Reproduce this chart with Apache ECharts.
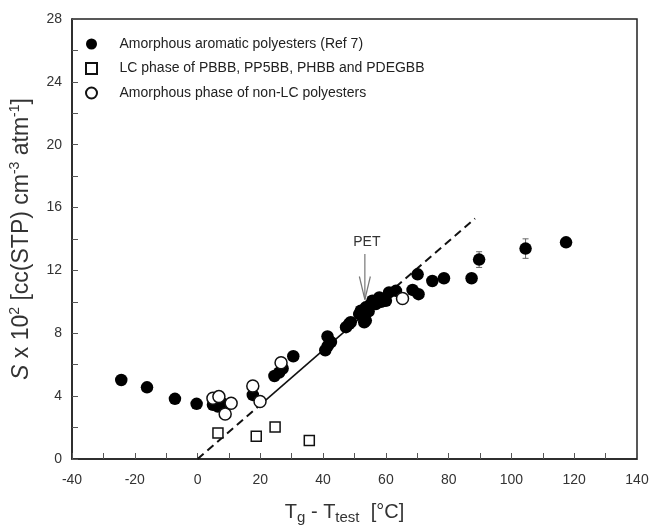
<!DOCTYPE html>
<html>
<head>
<meta charset="utf-8">
<script src="https://cdn.jsdelivr.net/npm/echarts@6/dist/echarts.min.js"></script>
<style>html,body{margin:0;padding:0;background:#fff;overflow:hidden}#c{width:652px;height:530px}</style>
</head>
<body>
<div id="c"></div>
<script>
// Amorphous aromatic polyesters (Ref 7) - filled circles
var aromaticX = [-24.3,-16.1,-7.2,-0.3,4.9,6.5,8.6,7.5,17.6,24.5,26.0,27.1,30.5,40.7,41.4,42.5,41.5,47.3,48.3,48.8,51.5,52.0,53.1,53.6,53.6,54.5,55.0,55.7,56.8,57.9,58.5,60.0,61.0,63.2,68.5,70.4,70.1,74.8,78.5,87.3,89.7,104.5,117.4];
var aromaticY = [5.03,4.56,3.83,3.51,3.45,3.34,3.45,3.6,4.08,5.28,5.5,5.76,6.54,6.92,7.8,7.44,7.2,8.39,8.6,8.7,9.22,9.44,8.7,9.65,8.81,9.4,9.8,10.07,9.86,10.28,10.0,10.07,10.6,10.7,10.76,10.49,11.75,11.33,11.5,11.5,12.69,13.39,13.79];
// LC phase of PBBB, PP5BB, PHBB and PDEGBB - open squares
var lcX = [6.5,18.7,24.7,35.6];
var lcY = [1.66,1.45,2.04,1.18];
// Amorphous phase of non-LC polyesters - open circles
var nonLcX = [4.9,6.8,10.7,8.8,17.6,19.9,26.6,65.3];
var nonLcY = [3.87,3.97,3.55,2.86,4.65,3.66,6.12,10.21];
// error bars: x, y, half-range
var errX = [89.7,104.5];
var errY = [12.69,13.39];
var errD = [0.5,0.62];
// fitted line breakpoints (dashed - solid - dashed)
var fitX = [0,19.7,60,88.4];
var fitY = [0,3.4,10.4,15.3];
// tick labels
var xTicks = [-40,-20,0,20,40,60,80,100,120,140];
var yTicks = [0,4,8,12,16,20,24,28];
// PET annotation
var petX = 53.3, petLabelY = 13.8, petTop = 13.05, petTip = 10.15;

function zip(a,b){return a.map(function(v,i){return [v,b[i]];});}

var chart = echarts.init(document.getElementById('c'));
var font = 'Liberation Sans, Arial, sans-serif';
var axisCol = '#222';
var option = {
  animation:false,
  backgroundColor:'#fff',
  grid:{left:72,right:15,top:19,bottom:67,show:true,borderColor:axisCol,borderWidth:1.5,backgroundColor:'transparent'},
  legend:{
    orient:'vertical', left:80, top:32, itemGap:10.5, itemWidth:11, itemHeight:11,
    textStyle:{fontFamily:font,fontSize:14,color:'#222',padding:[0,0,0,17.5]},
    data:['Amorphous aromatic polyesters (Ref 7)','LC phase of PBBB, PP5BB, PHBB and PDEGBB','Amorphous phase of non-LC polyesters']
  },
  xAxis:{
    type:'value', min:xTicks[0], max:xTicks[xTicks.length-1], interval:20,
    axisLine:{show:true,onZero:false,lineStyle:{color:axisCol,width:1.5}},
    axisTick:{inside:true,length:6,lineStyle:{color:'#555'}},
    minorTick:{show:true,splitNumber:2,length:6,lineStyle:{color:'#555'}},
    splitLine:{show:false},
    axisLabel:{fontFamily:font,fontSize:14,color:'#333',margin:14},
    name:'{n|T}{s|g}{n| - T}{s|test}{n|  [°C]}',
    nameLocation:'middle', nameGap:41,
    nameTextStyle:{padding:[0,20,0,0],rich:{
      n:{fontFamily:font,fontSize:20,color:'#333',lineHeight:25},
      s:{fontFamily:font,fontSize:15,color:'#333',lineHeight:15,verticalAlign:'bottom'}
    }}
  },
  yAxis:{
    type:'value', min:yTicks[0], max:yTicks[yTicks.length-1], interval:4,
    axisLine:{show:true,onZero:false,lineStyle:{color:axisCol,width:1.5}},
    axisTick:{inside:true,length:6,lineStyle:{color:'#555'}},
    minorTick:{show:true,splitNumber:2,length:6,lineStyle:{color:'#555'}},
    splitLine:{show:false},
    axisLabel:{fontFamily:font,fontSize:14,color:'#333',margin:10},
    name:'{i|S}{n| x 10}{p|2}{n| [cc(STP) cm}{p|-3}{n| atm}{p|-1}{n|]}',
    nameLocation:'middle', nameGap:36,
    nameTextStyle:{rich:{
      i:{fontFamily:font,fontSize:23,fontStyle:'italic',color:'#333',lineHeight:28},
      n:{fontFamily:font,fontSize:23,color:'#333',lineHeight:28},
      p:{fontFamily:font,fontSize:14,color:'#333',lineHeight:14,verticalAlign:'top'}
    }}
  },
  series:[
    {type:'line',data:[[fitX[0],fitY[0]],[fitX[1],fitY[1]]],symbol:'none',lineStyle:{color:'#111',width:2,type:[8,5]},z:1,silent:true},
    {type:'line',data:[[fitX[1],fitY[1]],[fitX[2],fitY[2]]],symbol:'none',lineStyle:{color:'#111',width:1.6},z:1,silent:true},
    {type:'line',data:[[fitX[2],fitY[2]],[fitX[3],fitY[3]]],symbol:'none',lineStyle:{color:'#111',width:2,type:[8,5]},z:1,silent:true},
    {type:'custom',z:2,silent:true,
      data:errX.map(function(x,i){return [x,errY[i]-errD[i],errY[i]+errD[i]];}),
      renderItem:function(params,api){
        var lo=api.coord([api.value(0),api.value(1)]);
        var hi=api.coord([api.value(0),api.value(2)]);
        var w=3;
        return {type:'group',children:[
          {type:'line',shape:{x1:lo[0],y1:lo[1],x2:hi[0],y2:hi[1]},style:{stroke:'#666',lineWidth:1}},
          {type:'line',shape:{x1:lo[0]-w,y1:lo[1],x2:lo[0]+w,y2:lo[1]},style:{stroke:'#666',lineWidth:1}},
          {type:'line',shape:{x1:hi[0]-w,y1:hi[1],x2:hi[0]+w,y2:hi[1]},style:{stroke:'#666',lineWidth:1}}
        ]};
      }},
    {name:'LC phase of PBBB, PP5BB, PHBB and PDEGBB',type:'scatter',symbol:'rect',symbolSize:10,data:zip(lcX,lcY),
      itemStyle:{color:'#fff',borderColor:'#111',borderWidth:1.5,opacity:1},z:3},
    {name:'Amorphous aromatic polyesters (Ref 7)',type:'scatter',symbol:'circle',symbolSize:12.5,data:zip(aromaticX,aromaticY),
      itemStyle:{color:'#000',borderColor:'#000',borderWidth:0,opacity:1},z:4},
    {name:'Amorphous phase of non-LC polyesters',type:'scatter',symbol:'circle',symbolSize:12,data:zip(nonLcX,nonLcY),
      itemStyle:{color:'#fff',borderColor:'#111',borderWidth:1.5,opacity:1},z:5},
    {type:'custom',z:6,silent:true,data:[[petX,petTop,petTip,petLabelY]],
      renderItem:function(params,api){
        var top=api.coord([api.value(0),api.value(1)]);
        var tip=api.coord([api.value(0),api.value(2)]);
        var lab=api.coord([api.value(0),api.value(3)]);
        var st={stroke:'#777',lineWidth:1.2};
        return {type:'group',children:[
          {type:'line',shape:{x1:top[0],y1:top[1],x2:tip[0],y2:tip[1]},style:st},
          {type:'line',shape:{x1:tip[0]-5.5,y1:tip[1]-23,x2:tip[0],y2:tip[1]},style:st},
          {type:'line',shape:{x1:tip[0]+5.5,y1:tip[1]-23,x2:tip[0],y2:tip[1]},style:st},
          {type:'text',x:lab[0]+2,y:lab[1],style:{text:'PET',fill:'#333',font:'14px '+font,textAlign:'center',textVerticalAlign:'middle'}}
        ]};
      }}
  ]
};
chart.setOption(option);
</script>
</body>
</html>
